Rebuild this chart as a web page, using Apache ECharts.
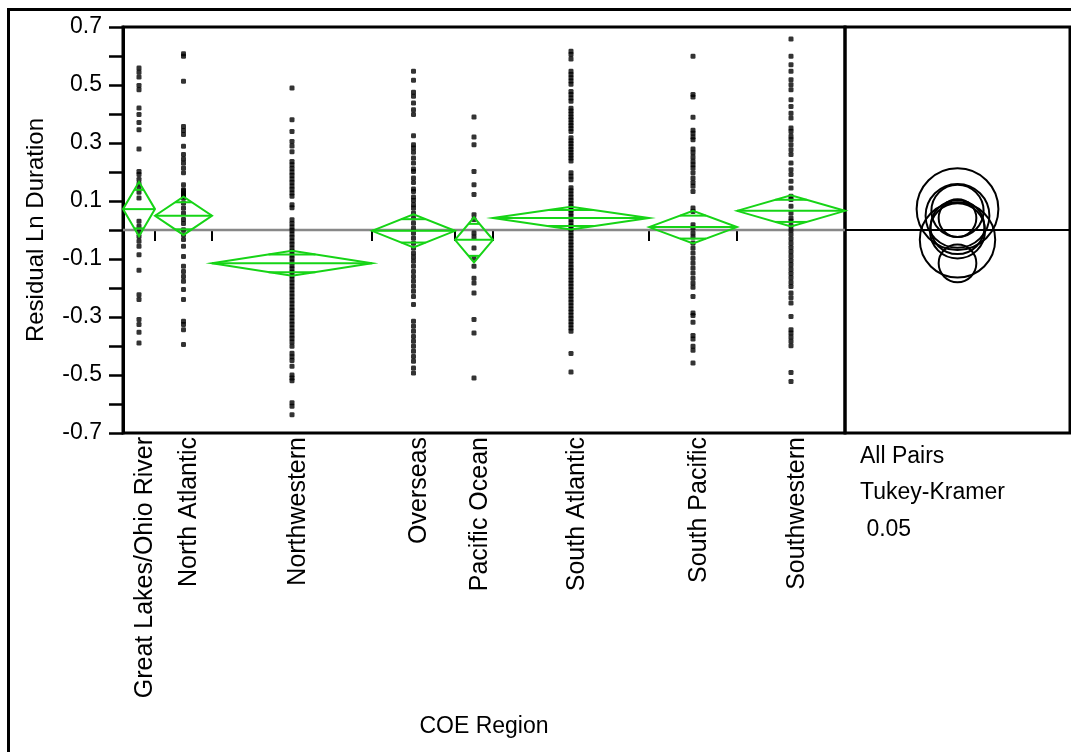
<!DOCTYPE html>
<html>
<head>
<meta charset="utf-8">
<script src="https://cdn.jsdelivr.net/npm/echarts@6/dist/echarts.min.js"></script>
<style>
html,body{margin:0;padding:0;background:#fff;}
#chart{width:1071px;height:752px;}
</style>
</head>
<body>
<div id="chart"></div>
<script>
// ---- data ----
const categories = ['Great Lakes/Ohio River','North Atlantic','Northwestern','Overseas','Pacific Ocean','South Atlantic','South Pacific','Southwestern'];
const groupSizes = [32, 57, 160, 83, 38, 156, 88, 108];
const groupMeans = [0.072, 0.049, -0.115, -0.003, -0.034, 0.041, 0.010, 0.066];
const ciHalfWidths = [0.094, 0.066, 0.043, 0.057, 0.078, 0.039, 0.056, 0.054];
const circleRadii = [0.141, 0.110, 0.065, 0.095, 0.130, 0.065, 0.093, 0.090];
const yTickValues = [-0.7,-0.6,-0.5,-0.4,-0.3,-0.2,-0.1,0,0.1,0.2,0.3,0.4,0.5,0.6,0.7];
const yLabelValues = [-0.7,-0.5,-0.3,-0.1,0.1,0.3,0.5,0.7];
const grandMean = 0;
const sideTexts = ['All Pairs', 'Tukey-Kramer', ' 0.05'];

const resGreatLakes = [0.559,0.544,0.528,0.498,0.484,0.421,0.398,0.371,0.346,0.279,0.202,0.191,0.174,0.159,0.145,0.13,0.11,0.03,0.013,-0.007,-0.022,-0.039,-0.056,-0.085,-0.139,-0.223,-0.24,-0.309,-0.326,-0.353,-0.39];
const resNorthAtlantic = [0.608,0.599,0.513,0.357,0.343,0.329,0.289,0.26,0.245,0.231,0.214,0.197,0.156,0.139,0.135,0.128,0.124,0.12,0.116,0.11,0.093,0.076,0.059,0.036,0.022,0.001,-0.016,-0.033,-0.056,-0.091,-0.125,-0.143,-0.16,-0.177,-0.205,-0.24,-0.315,-0.326,-0.344,-0.395];
const resNorthwestern = [0.49,0.38,0.34,0.305,0.29,0.27,0.236,0.225,0.212,0.2,0.188,0.176,0.164,0.152,0.14,0.128,0.116,0.087,0.077,0.035,0.022,0.01,-0.002,-0.014,-0.026,-0.038,-0.05,-0.062,-0.074,-0.086,-0.098,-0.11,-0.122,-0.134,-0.146,-0.158,-0.17,-0.182,-0.194,-0.206,-0.218,-0.23,-0.242,-0.254,-0.266,-0.278,-0.29,-0.302,-0.314,-0.326,-0.338,-0.35,-0.362,-0.374,-0.386,-0.401,-0.425,-0.437,-0.45,-0.47,-0.5,-0.51,-0.52,-0.596,-0.608,-0.637];
const resOverseas = [0.547,0.516,0.475,0.461,0.438,0.415,0.398,0.325,0.294,0.283,0.268,0.248,0.231,0.21,0.202,0.179,0.164,0.141,0.133,0.114,0.102,0.087,0.076,0.059,0.041,0.024,0.007,-0.01,-0.028,-0.045,-0.062,-0.079,-0.093,-0.108,-0.125,-0.143,-0.16,-0.177,-0.194,-0.211,-0.229,-0.257,-0.315,-0.332,-0.349,-0.367,-0.384,-0.401,-0.418,-0.436,-0.453,-0.476,-0.493];
const resPacificOcean = [0.39,0.321,0.294,0.202,0.156,0.122,0.053,0.036,-0.01,-0.024,-0.062,-0.097,-0.125,-0.166,-0.183,-0.217,-0.309,-0.355,-0.51];
const resSouthAtlantic = [0.616,0.605,0.59,0.547,0.536,0.525,0.514,0.503,0.478,0.467,0.455,0.444,0.42,0.41,0.4,0.39,0.38,0.37,0.36,0.35,0.34,0.318,0.308,0.298,0.288,0.278,0.268,0.258,0.248,0.238,0.197,0.185,0.173,0.146,0.135,0.124,0.113,0.102,0.091,0.08,0.069,0.058,0.047,0.036,0.025,0.014,0.003,-0.008,-0.019,-0.03,-0.041,-0.052,-0.063,-0.074,-0.085,-0.096,-0.107,-0.118,-0.129,-0.14,-0.151,-0.162,-0.173,-0.184,-0.195,-0.206,-0.217,-0.228,-0.239,-0.25,-0.261,-0.272,-0.283,-0.294,-0.305,-0.316,-0.327,-0.338,-0.349,-0.426,-0.49];
const resSouthPacific = [0.599,0.467,0.459,0.389,0.344,0.334,0.321,0.311,0.279,0.266,0.252,0.237,0.225,0.214,0.197,0.179,0.164,0.151,0.133,0.076,0.064,0.018,0.007,-0.01,-0.024,-0.045,-0.062,-0.079,-0.097,-0.114,-0.131,-0.148,-0.166,-0.183,-0.197,-0.229,-0.286,-0.295,-0.318,-0.364,-0.376,-0.401,-0.415,-0.459];
const resSouthwestern = [0.659,0.599,0.57,0.547,0.518,0.501,0.484,0.449,0.426,0.403,0.386,0.352,0.34,0.323,0.311,0.294,0.277,0.26,0.231,0.208,0.191,0.168,0.145,0.116,0.105,0.082,0.059,0.041,0.03,0.015,0,-0.015,-0.03,-0.045,-0.06,-0.075,-0.09,-0.105,-0.12,-0.135,-0.15,-0.165,-0.18,-0.195,-0.217,-0.234,-0.252,-0.298,-0.344,-0.355,-0.369,-0.384,-0.399,-0.491,-0.522];
const residualGroups = [resGreatLakes,resNorthAtlantic,resNorthwestern,resOverseas,resPacificOcean,resSouthAtlantic,resSouthPacific,resSouthwestern];

// ---- derived layout from sizes ----
const bounds = [0];
groupSizes.forEach(n => bounds.push(bounds[bounds.length-1] + n));
const total = bounds[bounds.length-1];
const centers = groupSizes.map((n,i) => bounds[i] + n/2);
const innerBounds = bounds.slice(1, bounds.length-1);

const dotData = [];
residualGroups.forEach((arr,i) => arr.forEach(v => dotData.push([centers[i], v])));
const diamondData = categories.map((c,i) => [bounds[i], bounds[i+1], groupMeans[i], ciHalfWidths[i]]);
const circleData = categories.map((c,i) => [0.5, groupMeans[i], circleRadii[i]]);

const FONT = "'Liberation Sans', Arial, sans-serif";
const FS = 23;
const GREEN = '#16d416';

const chart = echarts.init(document.getElementById('chart'), null, {renderer:'canvas'});
chart.setOption({
  animation: false,
  backgroundColor: '#fff',
  textStyle: {fontFamily: FONT},
  grid: [
    {left: 123, top: 27, width: 722, height: 406, show: true, borderColor: '#000', borderWidth: 3, containLabel: false},
    {left: 845, top: 27, width: 225, height: 406, show: true, borderColor: '#000', borderWidth: 3, containLabel: false}
  ],
  xAxis: [
    {type: 'value', gridIndex: 0, min: 0, max: total,
     axisLine: {show: false}, splitLine: {show: false},
     axisTick: {show: true, customValues: innerBounds, length: 11, lineStyle: {color: '#000', width: 2}},
     axisLabel: {show: true, customValues: centers, rotate: 90, margin: 4, color: '#000', fontSize: 25, fontFamily: FONT,
       hideOverlap: false, verticalAlign: 'top', lineHeight: 12,
       formatter: function(v){ let best=0, d=1e9; centers.forEach((c,i)=>{ if(Math.abs(c-v)<d){d=Math.abs(c-v);best=i;} }); return categories[best]; }},
     name: 'COE Region', nameLocation: 'middle', nameGap: 282,
     nameTextStyle: {color: '#000', fontSize: FS, fontFamily: FONT}},
    {type: 'value', gridIndex: 1, min: 0, max: 1, show: false}
  ],
  yAxis: [
    {type: 'value', gridIndex: 0, min: -0.7, max: 0.7, interval: 0.1,
     axisLine: {show: true, lineStyle: {color: '#000', width: 3}},
     splitLine: {show: false},
     axisTick: {show: true, customValues: yTickValues, length: 14, lineStyle: {color: '#000', width: 2.5}},
     axisLabel: {show: true, customValues: yLabelValues, margin: 21, color: '#000', fontSize: FS, fontFamily: FONT,
       formatter: v => (Math.round(v*10)/10).toFixed(1)},
     name: 'Residual Ln Duration', nameLocation: 'middle', nameGap: 75, nameRotate: 90,
     nameTextStyle: {color: '#000', fontSize: 24, fontFamily: FONT}},
    {type: 'value', gridIndex: 1, min: -0.7, max: 0.7, show: false}
  ],
  graphic: [
    {type: 'rect', shape: {x: 8.5, y: 9.5, width: 1080, height: 780}, style: {fill: 'none', stroke: '#000', lineWidth: 3}, silent: true, z: 100},
    {type: 'text', left: 860, top: 445, style: {text: sideTexts[0], fill: '#000', font: FS + 'px ' + FONT}},
    {type: 'text', left: 860, top: 481, style: {text: sideTexts[1], fill: '#000', font: FS + 'px ' + FONT}},
    {type: 'text', left: 860, top: 518, style: {text: sideTexts[2], fill: '#000', font: FS + 'px ' + FONT}}
  ],
  series: [
    {type: 'line', xAxisIndex: 0, yAxisIndex: 0, data: [[0, grandMean], [total, grandMean]], symbol: 'none',
     lineStyle: {color: '#888', width: 2.5}, silent: true, z: 1},
    {type: 'scatter', xAxisIndex: 0, yAxisIndex: 0, data: dotData, symbol: 'roundRect', symbolSize: 5,
     itemStyle: {color: '#000'}, silent: true, z: 2},
    {type: 'custom', xAxisIndex: 0, yAxisIndex: 0, data: diamondData, silent: true, z: 3,
     renderItem: function(params, api){
       const l = api.value(0), r = api.value(1), m = api.value(2), h = api.value(3);
       const c = (l + r) / 2;
       const L = api.coord([l, m]), R = api.coord([r, m]);
       const T = api.coord([c, m + h]), B = api.coord([c, m - h]);
       const k = 1 / Math.SQRT2;
       const hw = (R[0] - L[0]) / 2 * (1 - k);
       const cx = (L[0] + R[0]) / 2;
       const yU = api.coord([c, m + h * k])[1], yD = api.coord([c, m - h * k])[1];
       const st = {stroke: GREEN, lineWidth: 2, fill: 'none'};
       return {type: 'group', children: [
         {type: 'polygon', shape: {points: [L, T, R, B]}, style: st},
         {type: 'line', shape: {x1: L[0], y1: L[1], x2: R[0], y2: R[1]}, style: st},
         {type: 'line', shape: {x1: cx - hw, y1: yU, x2: cx + hw, y2: yU}, style: st},
         {type: 'line', shape: {x1: cx - hw, y1: yD, x2: cx + hw, y2: yD}, style: st}
       ]};
     }},
    {type: 'line', xAxisIndex: 1, yAxisIndex: 1, data: [[0, grandMean], [1, grandMean]], symbol: 'none',
     lineStyle: {color: '#000', width: 2}, silent: true, z: 1},
    {type: 'custom', xAxisIndex: 1, yAxisIndex: 1, data: circleData, silent: true, z: 3,
     renderItem: function(params, api){
       const p = api.coord([api.value(0), api.value(1)]);
       const rp = api.size([0, api.value(2)])[1];
       return {type: 'circle', shape: {cx: p[0], cy: p[1], r: rp}, style: {fill: 'none', stroke: '#000', lineWidth: 2}};
     }}
  ]
});
</script>
</body>
</html>
